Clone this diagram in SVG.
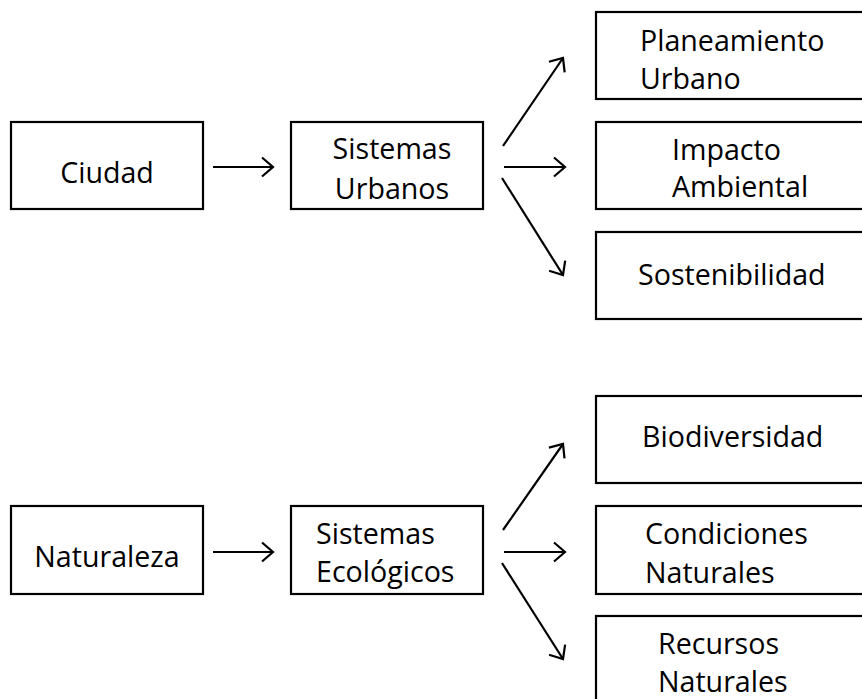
<svg xmlns="http://www.w3.org/2000/svg" width="862" height="699" viewBox="0 0 862 699">
<style>
.box{fill:#fff;stroke:#000;stroke-width:2.2}
.t{font-family:"Open Sans","Noto Sans","DejaVu Sans",sans-serif;font-size:28.6px;fill:#000}
.c{text-anchor:middle}
.ln{stroke:#000;stroke-width:2.2;fill:none;marker-end:url(#arr)}
</style>
<defs>
<marker id="arr" markerUnits="userSpaceOnUse" markerWidth="20" markerHeight="26" viewBox="-16 -13 20 26" refX="0" refY="0" orient="auto">
<path d="M-11,-9.5 L0,0 L-11,9.5" fill="none" stroke="#000" stroke-width="2.2" stroke-linejoin="miter"/>
</marker>
</defs>
<rect width="862" height="699" fill="#fff"/>
<g id="ciudad"><rect class="box" x="11" y="122" width="192" height="87"/><text class="t c" x="107" y="183">Ciudad</text></g>
<g id="sistemas-urbanos"><rect class="box" x="291" y="122" width="192" height="87"/><text class="t c" x="392" y="159">Sistemas</text><text class="t c" x="392" y="199">Urbanos</text></g>
<g id="planeamiento-urbano"><rect class="box" x="596" y="12" width="300" height="87"/><text class="t" x="640" y="51">Planeamiento</text><text class="t" x="640" y="89">Urbano</text></g>
<g id="impacto-ambiental"><rect class="box" x="596" y="122" width="300" height="87"/><text class="t" x="672" y="160">Impacto</text><text class="t" x="672" y="197">Ambiental</text></g>
<g id="sostenibilidad"><rect class="box" x="596" y="232" width="300" height="87"/><text class="t" x="638" y="285">Sostenibilidad</text></g>
<g id="naturaleza"><rect class="box" x="11" y="506" width="192" height="88"/><text class="t c" x="107" y="567">Naturaleza</text></g>
<g id="sistemas-ecologicos"><rect class="box" x="291" y="506" width="192" height="88"/><text class="t" x="316" y="544">Sistemas</text><text class="t" x="316" y="582">Ecológicos</text></g>
<g id="biodiversidad"><rect class="box" x="596" y="396" width="300" height="87"/><text class="t" x="642" y="447">Biodiversidad</text></g>
<g id="condiciones-naturales"><rect class="box" x="596" y="506" width="300" height="88"/><text class="t" x="645" y="544">Condiciones</text><text class="t" x="645" y="583">Naturales</text></g>
<g id="recursos-naturales"><rect class="box" x="596" y="616" width="300" height="120"/><text class="t" x="658" y="654">Recursos</text><text class="t" x="658" y="692">Naturales</text></g>
<g id="connectors">
<line class="ln" x1="213" y1="167" x2="273" y2="167"/>
<line class="ln" x1="503" y1="146" x2="563" y2="58"/>
<line class="ln" x1="504" y1="167" x2="565" y2="167"/>
<line class="ln" x1="502" y1="178" x2="563" y2="275"/>
<line class="ln" x1="213" y1="552" x2="273" y2="552"/>
<line class="ln" x1="503" y1="530" x2="563" y2="444"/>
<line class="ln" x1="504" y1="552" x2="565" y2="552"/>
<line class="ln" x1="502" y1="563" x2="563" y2="659"/>
</g>
</svg>
